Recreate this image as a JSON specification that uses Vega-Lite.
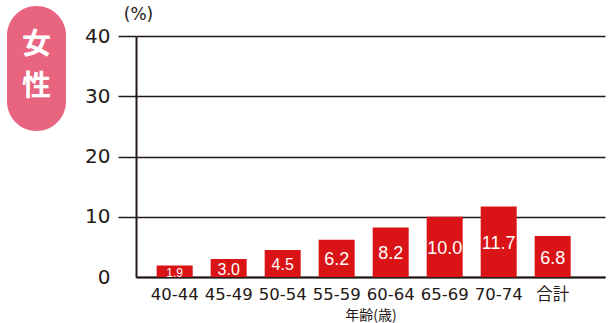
{
  "$schema": "https://vega.github.io/schema/vega-lite/v6.json",
  "padding": {"left": 7, "top": 5, "right": 3, "bottom": 0},
  "background": "white",
  "config": {"view": {"stroke": null}, "concat": {"spacing": 18}},
  "hconcat": [
    {
      "width": 59,
      "height": 125,
      "layer": [
        {
          "data": {"values": [{"badge": "女性"}]},
          "mark": {"type": "rect", "color": "#e8647f", "cornerRadius": 29.5},
          "encoding": {}
        },
        {
          "data": {"values": [{"ch": "女"}, {"ch": "性"}]},
          "mark": {"type": "text", "color": "white", "fontSize": 29, "fontWeight": "bold", "font": "Noto Sans CJK JP", "baseline": "middle"},
          "encoding": {
            "y": {"field": "ch", "type": "ordinal", "sort": null, "axis": null, "scale": {"type": "point", "padding": 1.2, "align": 0.47}},
            "text": {"field": "ch"}
          }
        }
      ]
    },
    {
      "width": 469,
      "height": 271,
      "data": {"values": [
        {"age": "40-44", "value": 1.9},
        {"age": "45-49", "value": 3.0},
        {"age": "50-54", "value": 4.5},
        {"age": "55-59", "value": 6.2},
        {"age": "60-64", "value": 8.2},
        {"age": "65-69", "value": 10.0},
        {"age": "70-74", "value": 11.7},
        {"age": "合計", "value": 6.8}
      ]},
      "encoding": {
        "x": {
          "field": "age", "type": "nominal", "sort": null,
          "scale": {"paddingInner": 0.3333, "paddingOuter": 0.509, "align": 0.376},
          "axis": {
            "title": "年齢(歳)", "labelAngle": 0, "labelFontSize": 16.5,
            "labelFont": "DejaVu Sans, Noto Sans CJK JP", "labelColor": "#231815",
            "ticks": false, "labelPadding": 9, "domainColor": "#231815", "domainWidth": 2,
            "titleFont": "Noto Sans CJK JP", "titleFontSize": 14, "titleFontWeight": "normal",
            "titleColor": "#231815", "titlePadding": 6
          }
        }
      },
      "layer": [
        {
          "mark": {"type": "bar", "color": "#da1317"},
          "encoding": {
            "y": {
              "field": "value", "type": "quantitative",
              "scale": {"domain": [0, 40], "range": [271, 30]},
              "axis": {
                "values": [0, 10, 20, 30, 40],
                "title": "(%)", "titleAngle": 0, "titleAlign": "center", "titleBaseline": "middle",
                "titleX": 2, "titleY": 8.5, "titleFontSize": 17, "titleFontWeight": "normal",
                "titleFont": "DejaVu Sans", "titleColor": "#231815",
                "labelFontSize": 20, "labelFont": "DejaVu Sans", "labelColor": "#231815",
                "labelPadding": 8, "tickSize": 18, "tickColor": "#231815", "tickWidth": 1.5,
                "tickOpacity": {"condition": {"test": "datum.value === 0", "value": 0}, "value": 1},
                "grid": true, "gridColor": "#231815", "gridWidth": 1.5, "gridOpacity": 1,
                "domainColor": "#231815", "domainWidth": 2
              }
            }
          }
        },
        {
          "mark": {"type": "text", "color": "white", "font": "Liberation Sans", "baseline": "middle", "dy": 2},
          "encoding": {
            "y": {"field": "value", "type": "quantitative", "scale": {"domain": [0, 80], "range": [271, 30]}, "axis": null},
            "text": {"field": "value", "type": "quantitative", "format": ".1f"},
            "size": {"condition": [{"test": "datum.value < 2", "value": 12}, {"test": "datum.value < 5", "value": 16}], "value": 18}
          }
        }
      ],
      "resolve": {"scale": {"y": "independent"}}
    }
  ]
}
